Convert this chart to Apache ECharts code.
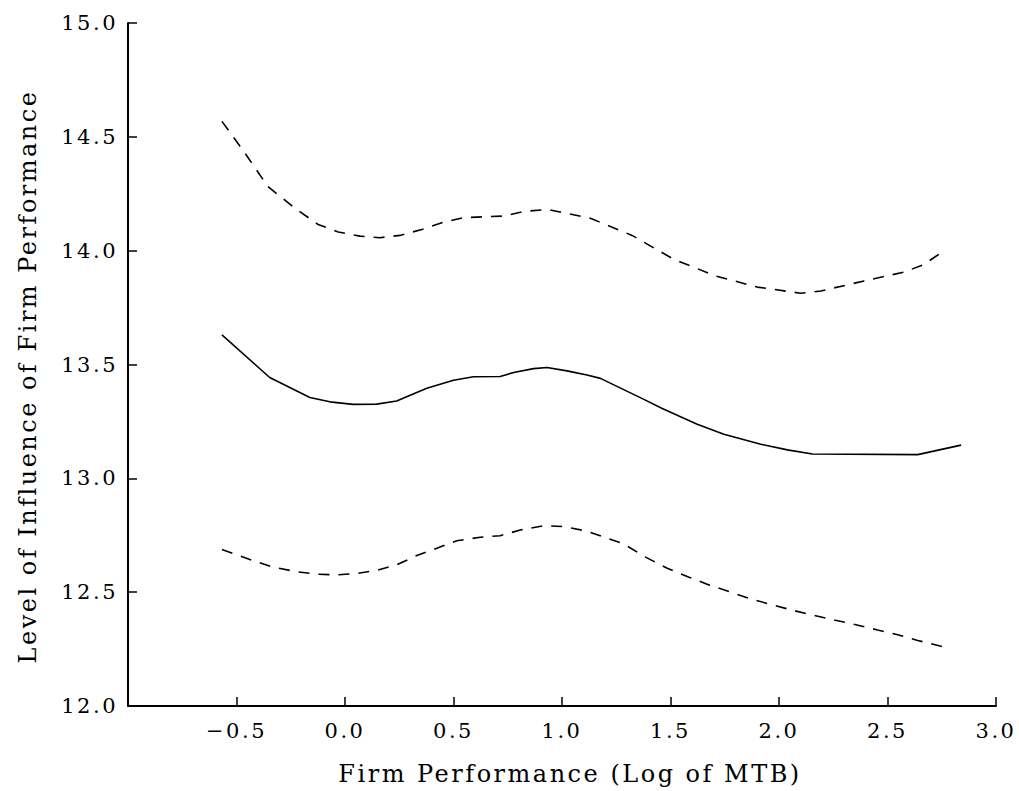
<!DOCTYPE html>
<html>
<head>
<meta charset="utf-8">
<script src="https://cdn.jsdelivr.net/npm/echarts@6/dist/echarts.min.js"></script>
<style>
  html, body { margin: 0; padding: 0; background: #fff; }
  #main { width: 1019px; height: 791px; }
  /* the original uses wide tracking on all text */
  #main text { letter-spacing: 2.5px; }
</style>
</head>
<body>
<div id="main"></div>
<script>
// fitted line and the two confidence bands: [log MTB, level]
const fitLine = [
  [-0.567, 13.630], [-0.347, 13.443], [-0.162, 13.355], [-0.070, 13.336],
  [0.038, 13.325], [0.146, 13.326], [0.238, 13.340], [0.377, 13.396],
  [0.500, 13.431], [0.592, 13.446], [0.715, 13.447], [0.777, 13.465],
  [0.869, 13.482], [0.931, 13.487], [1.023, 13.472], [1.115, 13.454],
  [1.177, 13.439], [1.375, 13.348], [1.462, 13.307], [1.623, 13.238],
  [1.746, 13.194], [1.916, 13.150], [2.039, 13.125], [2.154, 13.107],
  [2.639, 13.104], [2.839, 13.146]
];
const upperBand = [
  [-0.567, 14.568], [-0.462, 14.430], [-0.355, 14.281], [-0.223, 14.181],
  [-0.124, 14.115], [-0.031, 14.082], [0.069, 14.064], [0.161, 14.057],
  [0.253, 14.067], [0.354, 14.093], [0.453, 14.125], [0.546, 14.145],
  [0.730, 14.152], [0.823, 14.172], [0.931, 14.181], [1.023, 14.164],
  [1.131, 14.142], [1.323, 14.067], [1.515, 13.962], [1.708, 13.889],
  [1.900, 13.840], [2.100, 13.813], [2.193, 13.823], [2.392, 13.867],
  [2.577, 13.906], [2.669, 13.940], [2.770, 14.006]
];
const lowerBand = [
  [-0.567, 12.687], [-0.424, 12.639], [-0.331, 12.610], [-0.223, 12.590],
  [-0.131, 12.579], [-0.039, 12.576], [0.054, 12.582], [0.146, 12.596],
  [0.238, 12.620], [0.331, 12.661], [0.423, 12.693], [0.515, 12.726],
  [0.623, 12.741], [0.715, 12.748], [0.808, 12.773], [0.915, 12.792],
  [1.007, 12.788], [1.115, 12.768], [1.284, 12.712], [1.385, 12.654],
  [1.485, 12.605], [1.585, 12.566], [1.677, 12.532], [1.777, 12.500],
  [1.869, 12.471], [1.970, 12.444], [2.069, 12.419], [2.162, 12.398],
  [2.254, 12.378], [2.354, 12.357], [2.454, 12.334], [2.547, 12.313],
  [2.639, 12.288], [2.762, 12.259]
];

const font = 'DejaVu Serif';
const myChart = echarts.init(document.getElementById('main'), null, { renderer: 'svg' });

function lineSeries(data, type) {
  return {
    type: 'line',
    data: data,
    symbol: 'none',
    smooth: false,
    lineStyle: { color: '#000', width: 1.6, type: type },
    animation: false
  };
}

myChart.setOption({
  backgroundColor: '#fff',
  grid: { left: 128, right: 23, top: 23, bottom: 84 },
  xAxis: {
    type: 'value',
    min: -1,
    max: 3,
    interval: 0.5,
    name: 'Firm Performance (Log of MTB)',
    nameLocation: 'middle',
    nameGap: 56,
    nameTextStyle: { fontFamily: font, fontSize: 24, color: '#000', padding: [0, 0, 0, 16] },
    axisLine: { onZero: false, lineStyle: { color: '#000', width: 2 } },
    axisTick: { show: true, inside: true, length: 9, lineStyle: { color: '#000', width: 1.5 } },
    axisLabel: {
      margin: 14,
      fontFamily: font,
      fontSize: 21,
      color: '#000',
      formatter: function (v) {
        if (v === -1) return '';
        return v.toFixed(1).replace('-', '\u2212');
      }
    },
    splitLine: { show: false }
  },
  yAxis: {
    type: 'value',
    min: 12,
    max: 15,
    interval: 0.5,
    name: 'Level of Influence of Firm Performance',
    nameLocation: 'middle',
    nameGap: 88,
    nameTextStyle: { fontFamily: font, fontSize: 24, color: '#000', padding: [0, 24, 0, 0] },
    axisLine: { show: true, onZero: false, lineStyle: { color: '#000', width: 2 } },
    axisTick: { show: true, inside: true, length: 9, lineStyle: { color: '#000', width: 1.5 } },
    axisLabel: {
      margin: 10,
      fontFamily: font,
      fontSize: 21,
      color: '#000',
      formatter: function (v) { return v.toFixed(1); }
    },
    splitLine: { show: false }
  },
  series: [
    lineSeries(upperBand, [11, 9]),
    lineSeries(fitLine, 'solid'),
    lineSeries(lowerBand, [11, 9])
  ]
});
</script>
</body>
</html>
